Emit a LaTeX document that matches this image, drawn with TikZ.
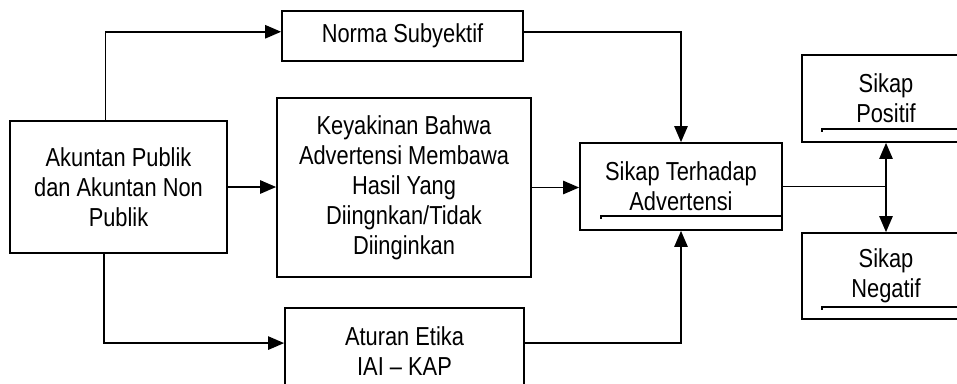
\documentclass[tikz,border=0pt]{standalone}
\usepackage{fontspec}
\setmainfont[FakeStretch=0.84]{Liberation Sans}
\usetikzlibrary{arrows.meta}
\tikzset{
  kotak/.style={draw, line width=1.3pt, align=center, inner sep=0pt},
  garis/.style={line width=1pt},
}
\begin{document}
\begin{tikzpicture}[x=0.75pt, y=-0.75pt, font=\fontsize{19.5}{22.5}\selectfont]
      \useasboundingbox (0,0) rectangle (957,383);
      \clip (0,0) rectangle (957,383);
      \node[kotak, minimum width=162.75pt, minimum height=99pt] (akuntan) at (118.5,187) {Akuntan Publik\\dan Akuntan Non\\Publik};
      \node[kotak, minimum width=180.75pt, minimum height=37.5pt] (norma) at (402.5,36) {Norma Subyektif};
      \node[kotak, minimum width=190.5pt, minimum height=134.25pt] (keyakinan) at (404,187.5) {Keyakinan Bahwa\\Advertensi Membawa\\Hasil Yang\\Diingnkan/Tidak\\Diinginkan};
      \node[kotak, minimum width=179.25pt, minimum height=65.25pt] (aturan) at (404.5,351.5) {Aturan Etika\\IAI -- KAP};
      \node[kotak, minimum width=151.5pt, minimum height=65.25pt] (terhadap) at (681,186.5) {Sikap Terhadap\\Advertensi};
      \node[kotak, minimum width=126pt, minimum height=65.25pt] (positif) at (886,98.5) {Sikap\\Positif};
      \node[kotak, minimum width=126pt, minimum height=64.5pt] (negatif) at (886,276) {Sikap\\Negatif};
      % garis bawah di dalam kotak
      \draw[garis] ([shift={(22,-12)}]terhadap.south west) |- ([shift={(0,-15)}]terhadap.south east);
      \draw[garis] ([shift={(21,-11)}]positif.south west) |- ([shift={(0,-14)}]positif.south east);
      \draw[garis] ([shift={(21,-10)}]negatif.south west) |- ([shift={(0,-13)}]negatif.south east);
      \begin{scope}[line width=1.2pt, -{Triangle[length=12pt,width=10pt]}]
        \draw (akuntan.101) |- (norma.178);
        \draw (akuntan.east) -- (akuntan.east -| keyakinan.west);
        \draw (akuntan.-102) |- (aturan.176);
        \draw (norma.2) -| (terhadap.north);
        \draw (keyakinan.east) -- (keyakinan.east -| terhadap.west);
        \draw (aturan.4) -| (terhadap.south);
        \draw[{Triangle[length=12pt,width=10pt]}-{Triangle[length=12pt,width=10pt]}] (positif.south) -- (negatif.north);
        \draw[-] (terhadap.east) -- (terhadap.east -| positif.south);
      \end{scope}
    \end{tikzpicture}
\end{document}
